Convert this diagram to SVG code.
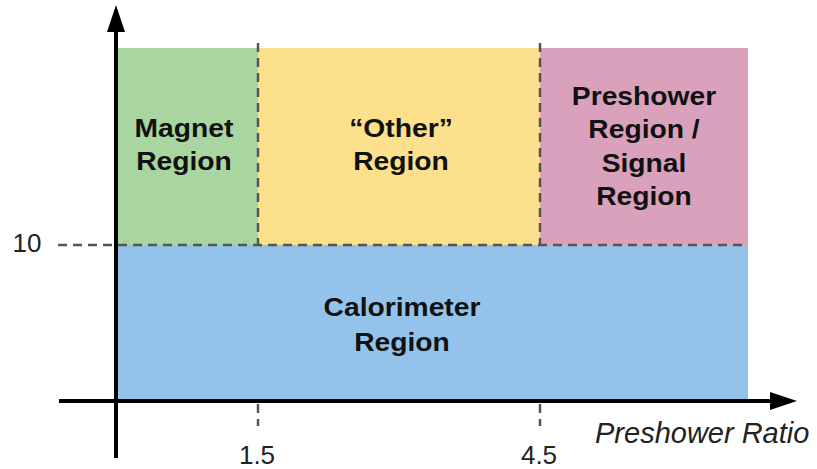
<svg xmlns="http://www.w3.org/2000/svg" width="817" height="469" viewBox="0 0 817 469">
  <style>
    .label { font-family: "Liberation Sans", Arial, sans-serif; font-weight: bold; font-size: 25px; fill: #111; text-anchor: middle; }
    .tick { font-family: "Liberation Sans", Arial, sans-serif; font-size: 26px; fill: #222; text-anchor: middle; }
    .axis-title { font-family: "Liberation Sans", Arial, sans-serif; font-style: italic; font-size: 29px; fill: #222; }
    .guide { stroke: #555; stroke-width: 2.5; stroke-dasharray: 9 6; fill: none; }
    .axis { stroke: #000; stroke-width: 4; fill: none; }
  </style>
  <rect width="817" height="469" fill="#fff"/>

  <!-- region blocks; labels use a slightly widened bold face -->
  <g id="calorimeter">
    <rect x="116" y="245" width="632" height="155" fill="#93c3ea"/>
    <text class="label" transform="translate(402 316) scale(1.13 1)">Calorimeter</text>
    <text class="label" transform="translate(402 351) scale(1.13 1)">Region</text>
  </g>
  <g id="magnet">
    <rect x="116" y="48" width="142" height="197" fill="#a9d6a0"/>
    <text class="label" transform="translate(184 137) scale(1.13 1)">Magnet</text>
    <text class="label" transform="translate(184 170) scale(1.13 1)">Region</text>
  </g>
  <g id="other">
    <rect x="258" y="48" width="282" height="197" fill="#fde08b"/>
    <text class="label" transform="translate(401 137) scale(1.13 1)">“Other”</text>
    <text class="label" transform="translate(401 170) scale(1.13 1)">Region</text>
  </g>
  <g id="preshower">
    <rect x="540" y="48" width="208" height="197" fill="#d9a1bb"/>
    <text class="label" transform="translate(644 105) scale(1.13 1)">Preshower</text>
    <text class="label" transform="translate(644 138) scale(1.13 1)">Region /</text>
    <text class="label" transform="translate(644 172) scale(1.13 1)">Signal</text>
    <text class="label" transform="translate(644 205) scale(1.13 1)">Region</text>
  </g>

  <!-- guides, axes and ticks -->
  <g id="connectors">
    <line class="guide" x1="258" y1="43" x2="258" y2="245"/>
    <line class="guide" x1="540" y1="43" x2="540" y2="245"/>
    <line class="guide" x1="58" y1="245" x2="748" y2="245"/>
    <line class="guide" x1="258" y1="404" x2="258" y2="426" stroke-dasharray="4 5 13"/>
    <line class="guide" x1="540" y1="404" x2="540" y2="426" stroke-dasharray="4 5 13"/>

    <line class="axis" x1="116" y1="458" x2="116" y2="30"/>
    <polygon points="116,5 107,32 125,32" fill="#000"/>
    <line class="axis" x1="59" y1="401" x2="772" y2="401"/>
    <polygon points="797,401 770,392 770,410" fill="#000"/>
  </g>

  <g id="axis-labels">
    <text class="tick" x="27" y="252">10</text>
    <text class="tick" x="257" y="464">1.5</text>
    <text class="tick" x="539" y="464">4.5</text>
    <text class="axis-title" x="595" y="443">Preshower Ratio</text>
  </g>
</svg>
